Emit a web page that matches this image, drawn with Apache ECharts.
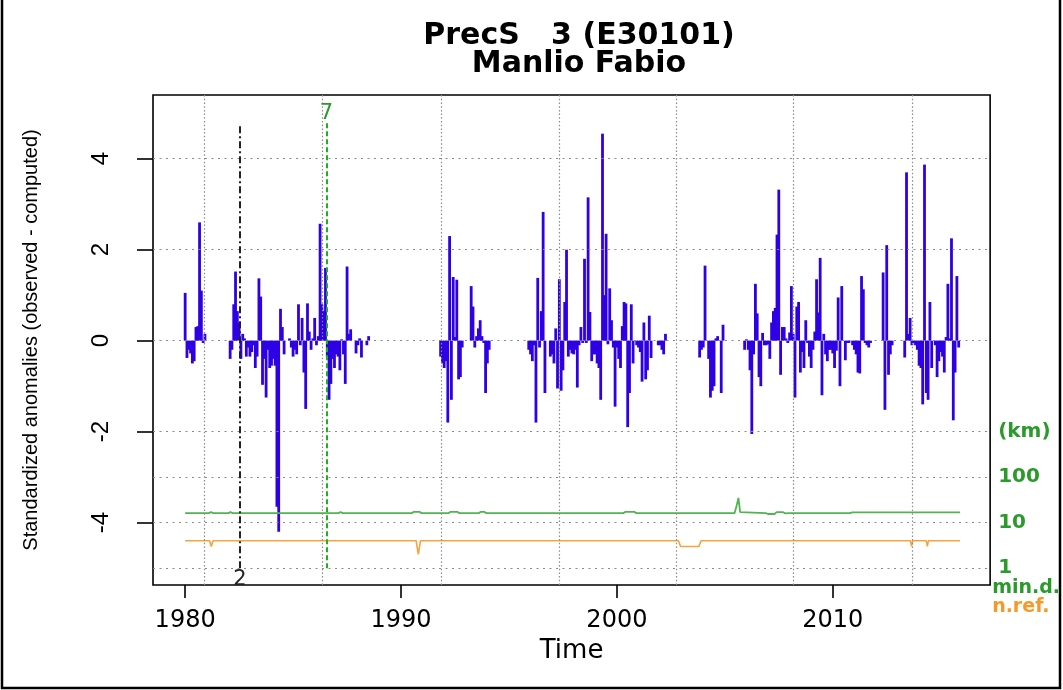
<!DOCTYPE html>
<html><head><meta charset="utf-8">
<script src="https://cdn.jsdelivr.net/npm/echarts@6/dist/echarts.min.js"></script>
<style>html,body{margin:0;padding:0;background:#fff}#c{width:1063px;height:690px}</style>
</head><body><div id="c"></div>
<script>
// ---- text ----
const titleLine1 = 'PrecS   3 (E30101)';
const titleLine2 = 'Manlio Fabio';
const yName = 'Standardized anomalies (observed - computed)';
const xName = 'Time';

// ---- ticks / grid ----
const xTicks = [1980, 1990, 2000, 2010];
const yTicks = [-4, -2, 0, 2, 4];
const kmTickLog = [0, 1, 2, 3];          // log10(km): 1, 10, 100, "(km)"
const gridX = [1980.89, 1986.36, 1991.87, 1997.34, 2002.76, 2008.18, 2013.7];
const gridY = [4, 2, 0, -2, -3, -4, -5];

// ---- monthly standardized anomalies (segments, start = months since Jan 1980) ----
const segStartMonth = [0, 25, 142, 191, 263, 286, 311, 388, 400];
const anomA = [1.05,-0.38,-0.2,-0.28,-0.5,-0.45,0.3,0.32,2.6,1.1,-0.05,0.15];
const anomB = [-0.4,-0.2,0.8,1.52,0.65,0.4,-0.4,0.15,0.05,-0.35,-0.15,-0.35,-0.25,-0.1,-0.6,-0.35,1.37,0.97,-0.97,-0.4,-1.25,-0.2,-0.6,-0.55,-0.4,-0.55,-3.65,-4.2,0.7,0.3,-0.3,0,0,0.05,-0.15,-0.35,-0.2,-0.3,0.8,-0.1,0.5,-0.7,-1.5,0.82,
  0.2,-0.2,0.05,0.5,-0.1,0.1,2.57,0.8,0.65,1.6,-0.35,-1.3,-0.95,-0.4,-0.6,-0.3,-0.35,-0.65,0.03,-0.3,-0.95,1.63,0.15,0.25,0,0,-0.28,-0.1,0.05,-0.37,0,0,-0.1,0.1];
const anomC = [-0.35,-0.5,-0.6,-0.45,-1.8,2.3,-1.3,1.4,0.08,1.34,-0.85,-0.8,-0.15,0,0,0,0,1.2,0.75,-0.15,0.1,0.27,0.45,0.1,-0.05,-1.15,-0.5,-0.2];
const anomD = [-0.2,-0.3,-0.45,-0.1,-1.8,1.38,-0.15,0.65,2.83,-1.15,0,0,-0.35,-0.3,-0.5,0.27,-1.05,1.35,-1.1,-0.65,0.85,2.0,
  -0.35,-0.2,-0.28,-0.3,-0.2,-1.03,-0.1,0.3,-0.05,1.8,-0.05,3.15,0.63,-0.45,-0.3,-0.3,-0.5,-0.6,-1.3,4.55,1.0,2.35,-0.08,1.15,0.45,-0.15,-1.45,-0.15,-0.4,-0.6,0.32,0.85,0.82,-1.9,-1.15,0.8,-0.5,0,-0.1,-0.15,-0.25,-0.9,0.4,-0.85,-0.65,0.55,-0.38,0];
const anomE = [-0.1,-0.1,-0.2,-0.3,0.15];
const anomF = [-0.37,-0.2,-0.15,1.65,0,-0.4,-1.25,-1.1,-1.0,0.05,0.1,0,-1.15,0.35];
const anomG = [-0.2,0.03,-0.2,-0.65,-2.05,-0.3,1.25,0.6,-0.8,-1.0,0.17,-0.1,-0.1,-0.08,-0.4,0.4,0.65,0.72,2.33,3.32,-0.75,0.3,0.3,0.05,-0.05,0.18,1.2,0.15,-1.25,0.75,0.85,-0.7,-0.25,-0.6,0.45,-0.05,-0.35,-0.6,-0.2,0.2,1.35,0.62,1.82,-1.2,0.15,
  -0.3,-0.45,-0.2,-0.2,-0.28,-0.6,-0.22,0.95,-1.0,1.2,0,-0.43,-0.05,-0.05,0,-0.1,-0.2,-0.3,-0.7,-0.72,1.42,1.13,-0.05,-0.1,-0.15,-0.05];
const anomH = [1.5,-1.52,2.1,-0.75,-0.3,-0.1];
const anomI = [-0.37,3.7,0.15,0.5,-0.1,-0.05,-0.1,-0.2,-0.55,-0.6,-1.4,3.87,-1.15,-1.3,0.85,-0.6,0,-0.1,-0.8,-0.45,-0.25,-0.35,-0.7,0.08,1.25,0.05,2.25,-1.75,-0.7,1.42,-0.15];
const segValues = [anomA, anomB, anomC, anomD, anomE, anomF, anomG, anomH, anomI];

// ---- minimum distance (km) and number of reference stations, [year, value] ----
const minDistKm = [[1980.0,16.2],[1981.1,16.2],[1981.2,17.0],[1981.3,16.2],[1982.0,16.2],[1982.1,17.0],[1982.2,16.2],[1987.1,16.2],[1987.2,17.0],[1987.3,16.2],
  [1990.5,16.2],[1990.6,17.3],[1990.85,17.3],[1990.95,16.2],[1992.2,16.2],[1992.3,17.3],[1992.6,17.3],[1992.7,16.2],[1993.6,16.2],[1993.7,17.3],[1993.85,17.3],[1993.95,16.2],
  [2000.3,16.2],[2000.4,17.3],[2000.8,17.3],[2000.9,16.2],[2005.45,16.2],[2005.55,24],[2005.63,35],[2005.71,17],[2005.8,16.5],[2006.9,16.2],[2007.0,15.5],[2007.3,15.5],
  [2007.4,17.0],[2007.7,17.0],[2007.8,16.0],[2008.0,16.2],[2010.8,16.2],[2010.9,16.8],[2015.9,16.8]];
const nRef = [[1980.0,4],[1981.13,4],[1981.21,3],[1981.29,4],[1990.7,4],[1990.8,2],[1990.9,4],[2002.85,4],[2002.95,3],[2003.8,3],[2003.9,4],
  [2013.6,4],[2013.65,3],[2013.7,4],[2014.33,4],[2014.38,3],[2014.43,4],[2015.9,4]];

// ---- breaks: [year, label, top] ----
const breakYears = [1982.54, 1986.54];
const breakLabels = ['2', '7'];
const breakTops = [4.75, 4.81];

// ---------------------------------------------------------
const barData = [];
segStartMonth.forEach((s, k) => {
  segValues[k].forEach((v, i) => barData.push([1980 + (s + i) / 12, v]));
});
const toLog = arr => arr.map(p => [p[0], Math.log10(p[1])]);

const green = '#2a9a2a';
const dejavu = 'DejaVu Sans';
const lib = 'Liberation Sans';

const gridLines = []
  .concat(gridX.map(v => ({ xAxis: v, lineStyle: { type: [1.5, 2.2], color: '#8a8a8a', width: 1.2 } })))
  .concat(gridY.map(v => ({ yAxis: v, lineStyle: { type: [2, 4.5], color: '#8a8a8a', width: 1.2 } })));

const chart = echarts.init(document.getElementById('c'), null, { renderer: 'canvas' });
chart.setOption({
  animation: false,
  backgroundColor: '#fff',
  title: {
    text: titleLine1 + '\n' + titleLine2,
    left: 574, top: 17, textAlign: 'center',
    textStyle: { fontFamily: dejavu, fontWeight: 'bold', fontSize: 30, lineHeight: 28, color: '#000' }
  },
  graphic: [{
    type: 'polyline', shape: { points: [[2, 0], [2, 688], [1060, 688], [1060, 0]] },
    style: { fill: null, stroke: '#000', lineWidth: 2.5 }, silent: true
  }],
  grid: { left: 153, right: 68, top: 95, bottom: 105, show: true, borderColor: '#000', borderWidth: 1.6, backgroundColor: 'transparent' },
  xAxis: {
    type: 'value', min: 1978.51, max: 2017.29, position: 'bottom',
    name: xName, nameLocation: 'middle', nameGap: 50,
    nameTextStyle: { fontFamily: dejavu, fontSize: 26, color: '#000' },
    axisLine: { show: false, onZero: false },
    splitLine: { show: false },
    axisTick: { show: true, customValues: xTicks, length: 13, lineStyle: { color: '#000', width: 1.6 } },
    axisLabel: { customValues: xTicks, formatter: v => String(v), margin: 24, fontFamily: dejavu, fontSize: 24, color: '#000' }
  },
  yAxis: [{
    type: 'value', min: -5.37, max: 5.40, position: 'left',
    name: yName, nameLocation: 'middle', nameRotate: 90, nameGap: 112,
    nameTextStyle: { fontFamily: lib, fontSize: 20, color: '#000' },
    axisLine: { show: false, onZero: false },
    splitLine: { show: false },
    axisTick: { show: true, customValues: yTicks, length: 16, lineStyle: { color: '#000', width: 1.6 } },
    axisLabel: { customValues: yTicks, formatter: v => String(v), rotate: 90, margin: 40, fontFamily: lib, fontSize: 24, color: '#000' }
  }, {
    type: 'value', position: 'right', min: -0.37, max: 10.40,
    name: '{g|min.d.}\n{o|n.ref.}', nameLocation: 'start', nameGap: -10,
    nameTextStyle: { align: 'left', verticalAlign: 'top', padding: [0, 0, 0, 2],
      rich: { g: { color: green, fontFamily: dejavu, fontWeight: 'bold', fontSize: 19, lineHeight: 19 },
              o: { color: '#f59a2a', fontFamily: dejavu, fontWeight: 'bold', fontSize: 19, lineHeight: 19 } } },
    axisLine: { show: false, onZero: false },
    splitLine: { show: false },
    axisTick: { show: false },
    axisLabel: { customValues: kmTickLog, formatter: v => (v === 3 ? '(km)' : String(Math.round(Math.pow(10, v)))),
      margin: 8, fontFamily: dejavu, fontWeight: 'bold', fontSize: 20, color: green }
  }],
  series: [{
    name: 'grid', type: 'line', data: [], z: 1, silent: true,
    markLine: { silent: true, symbol: ['none', 'none'], label: { show: false }, animation: false, data: gridLines }
  }, {
    name: 'anomalies', type: 'bar', data: barData, barWidth: 2.8, z: 2, silent: true,
    itemStyle: { color: '#2e00e6' }
  }, {
    name: 'min.d.', type: 'line', yAxisIndex: 1, data: toLog(minDistKm), z: 3, silent: true,
    symbol: 'none', lineStyle: { color: '#50b450', width: 1.8 }
  }, {
    name: 'n.ref.', type: 'line', yAxisIndex: 1, data: toLog(nRef), z: 3, silent: true,
    symbol: 'none', lineStyle: { color: '#f7a440', width: 1.6 }
  }, {
    name: 'breaks', type: 'line', data: [], z: 4, silent: true,
    markLine: {
      silent: true, symbol: ['none', 'none'], animation: false,
      data: [
        [{ coord: [breakYears[0], -5], lineStyle: { color: '#222', type: [7, 3, 2, 3], width: 2 },
           label: { show: true, position: 'start', formatter: breakLabels[0], distance: 1, color: '#222', fontFamily: dejavu, fontSize: 21 } },
         { coord: [breakYears[0], breakTops[0]] }],
        [{ coord: [breakYears[1], -5], lineStyle: { color: '#1fb01f', type: [5, 3], width: 2 },
           label: { show: true, position: 'end', formatter: breakLabels[1], distance: -2, color: green, fontFamily: dejavu, fontSize: 21 } },
         { coord: [breakYears[1], breakTops[1]] }]
      ]
    }
  }]
});
</script></body></html>
